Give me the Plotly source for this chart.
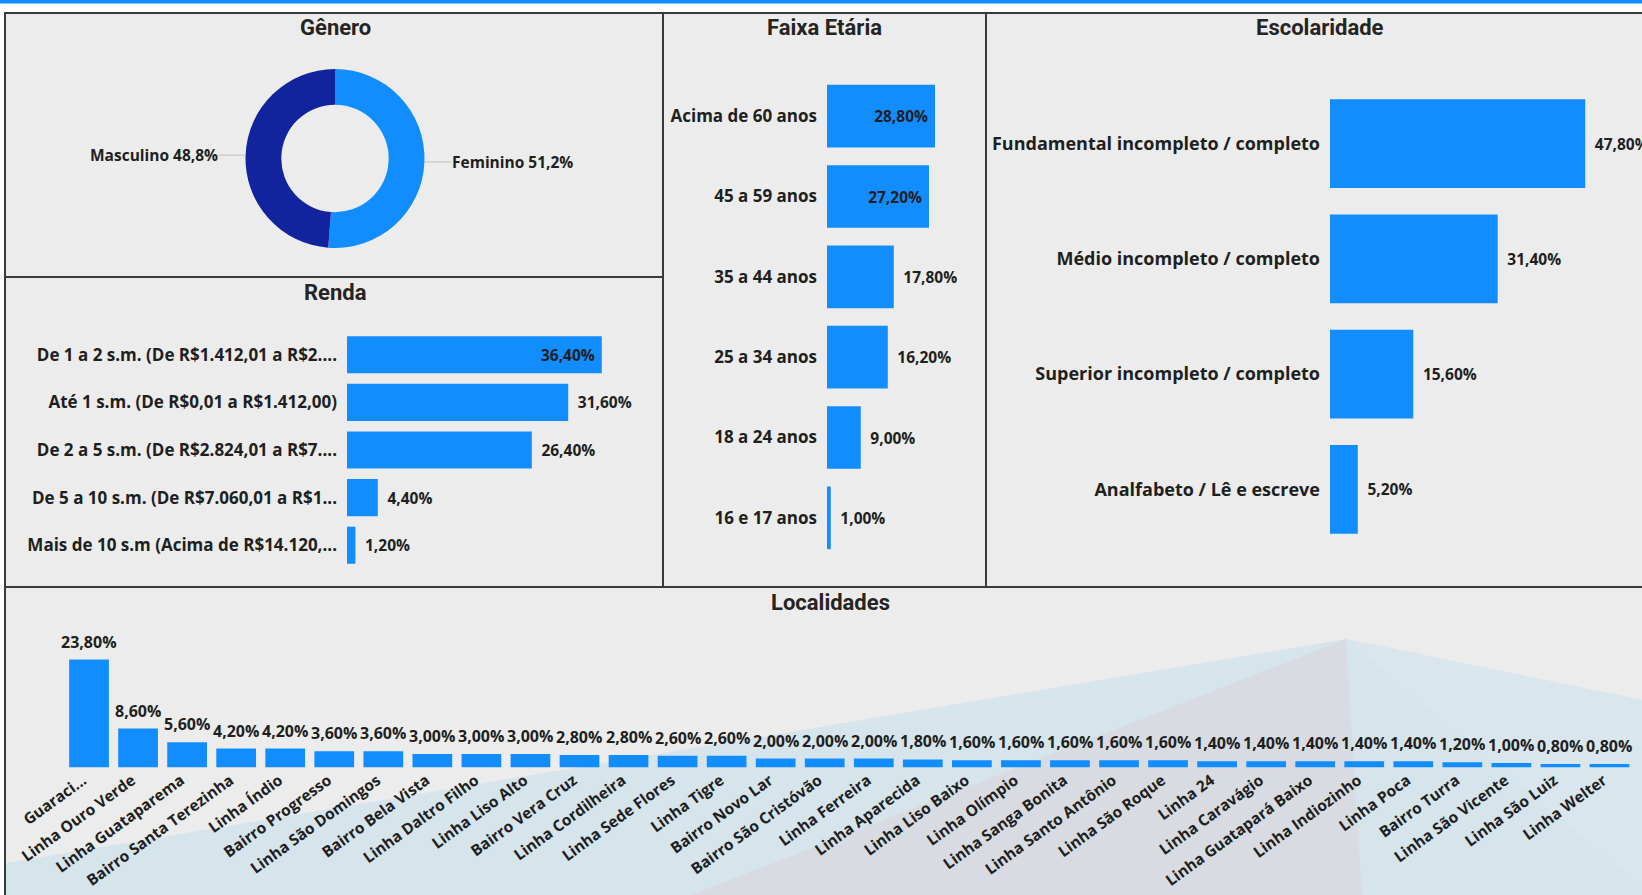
import math
import plotly.graph_objects as go

W, H = 1642, 895

# ---------------- data ----------------
genero_labels = ["Feminino", "Masculino"]
genero_values = [51.2, 48.8]
genero_colors = ["#118DFF", "#12239E"]

renda_cats = [
    "De 1 a 2 s.m. (De R$1.412,01 a R$2....",
    "Até 1 s.m. (De R$0,01 a R$1.412,00)",
    "De 2 a 5 s.m. (De R$2.824,01 a R$7....",
    "De 5 a 10 s.m. (De R$7.060,01 a R$1...",
    "Mais de 10 s.m (Acima de R$14.120,...",
]
renda_vals = [36.4, 31.6, 26.4, 4.4, 1.2]

faixa_cats = ["Acima de 60 anos", "45 a 59 anos", "35 a 44 anos",
              "25 a 34 anos", "18 a 24 anos", "16 e 17 anos"]
faixa_vals = [28.8, 27.2, 17.8, 16.2, 9.0, 1.0]

escol_cats = ["Fundamental incompleto / completo", "Médio incompleto / completo",
              "Superior incompleto / completo", "Analfabeto / Lê e escreve"]
escol_vals = [47.8, 31.4, 15.6, 5.2]

local_cats = [
    "Guaraci...", "Linha Ouro Verde", "Linha Guataparema", "Bairro Santa Terezinha",
    "Linha Índio", "Bairro Progresso", "Linha São Domingos", "Bairro Bela Vista",
    "Linha Daltro Filho", "Linha Liso Alto", "Bairro Vera Cruz", "Linha Cordilheira",
    "Linha Sede Flores", "Linha Tigre", "Bairro Novo Lar", "Bairro São Cristóvão",
    "Linha Ferreira", "Linha Aparecida", "Linha Liso Baixo", "Linha Olímpio",
    "Linha Sanga Bonita", "Linha Santo Antônio", "Linha São Roque", "Linha 24",
    "Linha Caravágio", "Linha Guatapará Baixo", "Linha Indiozinho", "Linha Poca",
    "Bairro Turra", "Linha São Vicente", "Linha São Luiz", "Linha Welter",
]
local_vals = [23.8, 8.6, 5.6, 4.2, 4.2, 3.6, 3.6, 3.0, 3.0, 3.0, 2.8, 2.8, 2.6, 2.6,
              2.0, 2.0, 2.0, 1.8, 1.6, 1.6, 1.6, 1.6, 1.6, 1.4, 1.4, 1.4, 1.4, 1.4,
              1.2, 1.0, 0.8, 0.8]

titles = ["Gênero", "Renda", "Faixa Etária", "Escolaridade", "Localidades"]

# ---------------- helpers ----------------
def X(p):
    return p / W

def Y(p):
    return 1 - p / H

def fmt2(v):
    return f"{v:.2f}".replace(".", ",") + "%"

def fmt1(v):
    return f"{v:.1f}".replace(".", ",") + "%"

BLUE = "#118DFF"
TXT = "#201F1E"
NB = "\u00a0"

def lab_font(size, color=TXT, family="Open Sans"):
    return dict(family=family, size=size, color=color, weight=700)

def bar_text(vals, n_inside):
    txt, pos = [], []
    for i, v in enumerate(vals):
        if i < n_inside:
            txt.append(fmt2(v) + NB)
            pos.append("inside")
        else:
            txt.append(NB + "\u2009" + fmt2(v))
            pos.append("outside")
    return txt, pos

fig = go.Figure()

# ---------------- panels & decoration ----------------
shapes = []
shapes.append(dict(type="rect", xref="paper", yref="paper", x0=X(0), x1=X(W), y0=Y(0), y1=Y(3.5),
                   fillcolor=BLUE, line=dict(width=0), layer="below"))
panels = [(5, 13, 663, 277), (5, 277, 663, 587), (663, 13, 986, 587),
          (986, 13, 1660, 587), (5, 587, 1660, 910)]
for (a, b, c, d) in panels:
    shapes.append(dict(type="rect", xref="paper", yref="paper",
                       x0=X(a), x1=X(c), y0=Y(d), y1=Y(b),
                       fillcolor="#ECECEC", line=dict(color="#3a3a3a", width=2), layer="below"))

def poly(pts):
    return "M " + " L ".join(f"{X(px):.5f},{Y(py):.5f}" for px, py in pts) + " Z"

shapes.append(dict(type="path", xref="paper", yref="paper", layer="below", line=dict(width=0),
                   fillcolor="#D6E4EC",
                   path=poly([(6, 863), (1346, 639), (1642, 700), (1642, 895), (6, 895)])))
shapes.append(dict(type="path", xref="paper", yref="paper", layer="below", line=dict(width=0),
                   fillcolor="#D8DCE2",
                   path=poly([(691, 895), (1346, 639), (1362, 895)])))
shapes.append(dict(type="path", xref="paper", yref="paper", layer="below", line=dict(width=0),
                   fillcolor="#D9E6EE",
                   path=poly([(1346, 639), (1642, 700), (1642, 887)])))

# ---------------- Gênero donut ----------------
cx, cy, r = 335, 158.5, 89.5
fig.add_trace(go.Pie(
    labels=genero_labels, values=genero_values, hole=0.6, sort=False,
    direction="clockwise", rotation=0,
    marker=dict(colors=genero_colors, line=dict(width=0)),
    textinfo="none", hoverinfo="skip", showlegend=False, automargin=False,
    domain=dict(x=[X(cx - r), X(cx + r)], y=[Y(cy + r), Y(cy - r)]),
))

annotations = []
tot = sum(genero_values)
cum = 0
for lab, v in zip(genero_labels, genero_values):
    mid = (cum + v / 2) / tot * 2 * math.pi
    cum += v
    px = cx + r * math.sin(mid)
    py = cy - r * math.cos(mid)
    right = math.sin(mid) > 0
    annotations.append(dict(
        x=X(px), y=Y(py), xref="paper", yref="paper",
        text=f"{lab} {fmt1(v)}", showarrow=True, arrowhead=0, arrowwidth=1.2,
        arrowcolor="#C8C8C8", ax=27 if right else -27, ay=0,
        xanchor="left" if right else "right", yanchor="middle",
        font=lab_font(15.5), borderpad=0,
    ))

# ---------------- horizontal bar panels ----------------
def add_hbar(cats, vals, n_inside, xa, ya, width):
    txt, pos = bar_text(vals, n_inside)
    fig.add_trace(go.Bar(
        x=vals, y=cats, orientation="h", xaxis=xa, yaxis=ya,
        marker=dict(color=BLUE, line=dict(width=0)), width=width,
        text=txt, textposition=pos, insidetextanchor="end",
        insidetextfont=lab_font(15.5), outsidetextfont=lab_font(15.5),
        constraintext="none", cliponaxis=False, hoverinfo="skip", showlegend=False,
    ))

add_hbar(renda_cats, renda_vals, 1, "x", "y", 0.78)
add_hbar(faixa_cats, faixa_vals, 2, "x2", "y2", 0.78)
add_hbar(escol_cats, escol_vals, 0, "x3", "y3", 0.77)

# ---------------- Localidades ----------------
fig.add_trace(go.Bar(
    x=local_cats, y=local_vals, xaxis="x4", yaxis="y4",
    marker=dict(color=BLUE, line=dict(width=0)), width=0.81,
    hoverinfo="skip", showlegend=False,
))
for c, v in zip(local_cats, local_vals):
    annotations.append(dict(x=c, y=v, xref="x4", yref="y4", text=fmt2(v), showarrow=False,
                            yanchor="bottom", yshift=5, font=lab_font(16)))

# ---------------- titles ----------------
title_pos = [(335, 27), (335, 292), (825, 27), (1320, 27), (830, 602)]
for t, (tx, ty) in zip(titles, title_pos):
    annotations.append(dict(x=X(tx), y=Y(ty), xref="paper", yref="paper", text=t,
                            showarrow=False, xanchor="center", yanchor="middle",
                            font=dict(family="Roboto", size=22, color="#252423", weight=700)))

def hx(d0, d1, k, anchor):
    return dict(domain=[X(d0), X(d1)], range=[0, (d1 - d0) / k], visible=False,
                anchor=anchor, fixedrange=True, automargin=False)

def hy(t0, t1, size, anchor):
    return dict(domain=[Y(t1), Y(t0)], type="category", autorange="reversed",
                showgrid=False, zeroline=False, showline=False, ticks="",
                ticklabelstandoff=9, tickfont=lab_font(size), anchor=anchor,
                fixedrange=True, automargin=False)

fig.update_layout(
    width=W, height=H, margin=dict(l=0, r=0, t=0, b=0, pad=0), autosize=False,
    paper_bgcolor="white", plot_bgcolor="rgba(0,0,0,0)",
    separators=",.", hovermode=False, showlegend=False,
    shapes=shapes, annotations=annotations,
    xaxis=hx(347, 640, 7.0, "y"), yaxis=hy(331, 569, 17, "x"),
    xaxis2=hx(827, 975, 3.75, "y2"), yaxis2=hy(76, 558, 17, "x2"),
    xaxis3=hx(1330, 1642, 5.34, "y3"), yaxis3=hy(86, 547, 18, "x3"),
    xaxis4=dict(domain=[X(64.5), X(1634)], type="category", range=[-0.5, len(local_cats) - 0.5],
                tickmode="linear", tick0=0, dtick=1, tickangle=-36, showgrid=False,
                zeroline=False, showline=False, ticks="", tickfont=lab_font(15.5),
                ticklabelshift=-6, anchor="y4", fixedrange=True, automargin=False),
    yaxis4=dict(domain=[Y(767.6), Y(630)], range=[0, (767.6 - 630) / 4.54], visible=False,
                anchor="x4", fixedrange=True, automargin=False),
)

fig.write_html(
    "out.html",
    config={"displayModeBar": False},
    post_script="document.body.style.margin='0';document.body.style.overflow='hidden';",
)
